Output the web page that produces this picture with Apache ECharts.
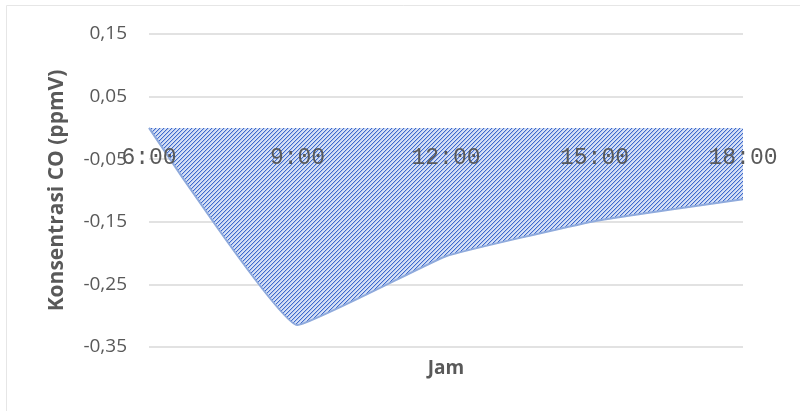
<!DOCTYPE html>
<html>
<head>
<meta charset="utf-8">
<script src="https://cdn.jsdelivr.net/npm/echarts@6/dist/echarts.min.js"></script>
<style>
html,body{margin:0;padding:0;background:#fff;}
#chart{width:800px;height:411px;}
</style>
</head>
<body>
<div id="chart"></div>
<script>
const categories = ['6:00', '9:00', '12:00', '15:00', '18:00'];
const coValues = [0, -0.315, -0.205, -0.149, -0.114];
const yTicks = [-0.35, -0.25, -0.15, -0.05, 0.05, 0.15];

// hatch pattern (upward diagonal)
const pc = document.createElement('canvas');
pc.width = 4; pc.height = 4;
const pctx = pc.getContext('2d');
pctx.fillStyle = '#d6e0f5';
pctx.fillRect(0, 0, 4, 4);
for (let y = 0; y < 4; y++) {
  pctx.fillStyle = '#3c69cc';
  pctx.fillRect((3 - y + 4) % 4, y, 1, 1);
  pctx.fillStyle = '#b2c4ec';
  pctx.fillRect((4 - y + 4) % 4, y, 1, 1);
}

const chart = echarts.init(document.getElementById('chart'));
chart.setOption({
  animation: false,
  backgroundColor: '#fff',
  graphic: [{
    type: 'rect',
    shape: { x: 6.5, y: 5.5, width: 900, height: 500 },
    style: { fill: 'none', stroke: '#e6e6e6', lineWidth: 1 },
    silent: true
  }],
  grid: { left: 149, right: 57, top: 34, bottom: 64, containLabel: false, outerBoundsMode: 'none' },
  xAxis: {
    type: 'category',
    data: categories,
    boundaryGap: false,
    position: 'bottom',
    offset: -219,
    z: 10,
    axisLine: { show: false, onZero: false },
    axisTick: { show: false },
    axisLabel: {
      margin: 18,
      fontFamily: 'Liberation Mono',
      fontSize: 23,
      color: '#595959'
    },
    name: 'Jam',
    nameLocation: 'middle',
    nameGap: 231,
    nameTextStyle: {
      fontFamily: 'Open Sans',
      fontWeight: 'bold',
      fontSize: 19,
      color: '#595959'
    }
  },
  yAxis: {
    type: 'value',
    min: yTicks[0],
    max: yTicks[yTicks.length - 1],
    interval: 0.1,
    axisLine: { show: false },
    axisTick: { show: false },
    splitLine: { lineStyle: { color: '#d9d9d9', width: 1.5 } },
    axisLabel: {
      margin: 22,
      fontFamily: 'Open Sans',
      fontSize: 19,
      color: '#595959',
      formatter: v => v.toFixed(2).replace('.', ',')
    },
    name: 'Konsentrasi CO (ppmV)',
    nameLocation: 'middle',
    nameGap: 81,
    nameTextStyle: {
      fontFamily: 'Open Sans',
      fontWeight: 'bold',
      fontSize: 21,
      color: '#595959'
    }
  },
  series: [{
    type: 'line',
    data: coValues,
    smooth: 0.1,
    showSymbol: false,
    z: 2,
    lineStyle: { color: '#8faadc', width: 2 },
    areaStyle: {
      origin: 0,
      opacity: 1,
      color: { image: pc, repeat: 'repeat' }
    }
  }]
});
</script>
</body>
</html>
